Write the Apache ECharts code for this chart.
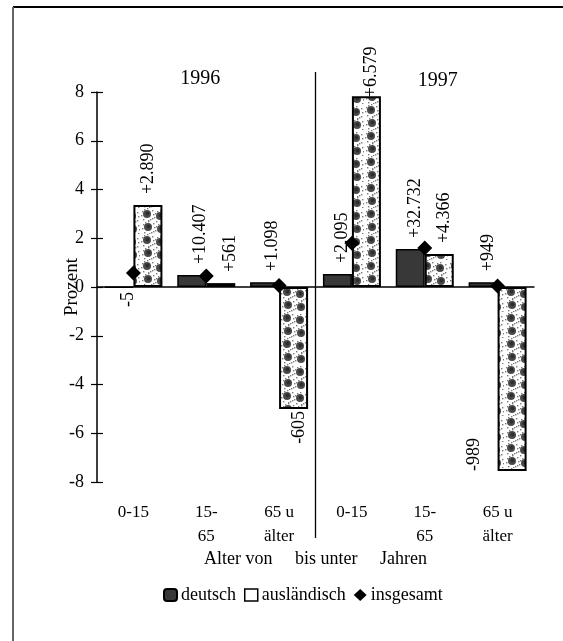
<!DOCTYPE html>
<html><head><meta charset="utf-8">
<script src="https://cdn.jsdelivr.net/npm/echarts@6/dist/echarts.min.js"></script>
<style>html,body{margin:0;padding:0;background:#fff}#c{width:563px;height:641px}</style>
</head><body><div id="c"></div>
<script>
// ---- data ----
const categories = ['0-15', '15-\n65', '65 u\nälter', '0-15', '15-\n65', '65 u\nälter'];
const deutsch = [-0.02, 0.49, 0.20, 0.53, 1.56, 0.20];
const auslaendisch = [3.36, 0.16, -5.0, 7.83, 1.35, -7.55];
const insgesamt = [0.57, 0.45, 0.06, 1.80, 1.60, 0.04];
const deutschLabels = ['-5', '+10.407', '+1.098', '+2.095', '+32.732', '+949'];
const auslLabels = ['+2.890', '+561', '-605', '+6.579', '+4.366', '-989'];
const yearLabels = ['1996', '1997'];
const yMin = -8, yMax = 8, yInterval = 2;
const seriesNames = ['deutsch', 'ausländisch', 'insgesamt'];
const xAxisName = 'Alter von     bis unter     Jahren';
const yAxisName = 'Prozent';

// ---- styles ----
const FONT = 'Liberation Serif, Times New Roman, serif';
// label offsets are in the rotated frame: [along text (screen up), across text (screen right)]
const overrides = {
  deutsch: { 0: { distance: 4, offset: [0, 9] }, 1: { offset: [0, 9] }, 2: { offset: [0, 8] } },
  ausl: { 0: { offset: [0, 0] }, 1: { offset: [0, 10] }, 3: { distance: -1 },
          5: { position: 'bottom', align: 'left', distance: 0, offset: [0, -38] } }
};

function buildItems(vals, ov) {
  return vals.map((v, i) => {
    const base = v >= 0
      ? { position: 'top', align: 'left', verticalAlign: 'middle', distance: 11, offset: [0, 5] }
      : { position: 'bottom', align: 'right', verticalAlign: 'middle', distance: 2, offset: [0, 6] };
    return { value: v, label: Object.assign(base, (ov && ov[i]) || {}) };
  });
}

// speckled blot texture for the "ausländisch" bars
function makeTexture() {
  const c = document.createElement('canvas');
  c.width = 28; c.height = 26;
  const g = c.getContext('2d');
  g.fillStyle = '#fff'; g.fillRect(0, 0, 28, 26);
  const blots = [[7, 6], [20, 8], [8, 19], [21, 21]];
  const specks = [[-5, -3], [5, -4], [-4, 5], [5, 4], [0, -6], [-6, 1], [6, 0], [1, 6], [-3, -5], [3, 5]];
  blots.forEach(([x, y]) => {
    g.fillStyle = '#4a4a4a';
    g.beginPath(); g.arc(x, y, 4, 0, Math.PI * 2); g.fill();
    g.fillStyle = '#2e2e2e';
    g.beginPath(); g.arc(x + 0.5, y - 0.5, 2, 0, Math.PI * 2); g.fill();
    g.fillStyle = '#7a7a7a';
    specks.forEach(([dx, dy]) => g.fillRect(x + dx, y + dy, 1.4, 1.4));
  });
  return c;
}
const texture = makeTexture();

const labelCommon = { show: true, rotate: 90, fontFamily: FONT, fontSize: 18, color: '#000' };

const chart = echarts.init(document.getElementById('c'), null, { renderer: 'canvas' });
const option = {
  animation: false,
  backgroundColor: '#fff',
  textStyle: { fontFamily: FONT, color: '#000' },
  grid: { left: 97, top: 92, width: 437, height: 390, containLabel: false },
  legend: {
    left: 163, top: 586, padding: 0,
    itemWidth: 13, itemHeight: 12, itemGap: 8,
    textStyle: { fontFamily: FONT, fontSize: 18, color: '#000', padding: [0, 0, 0, -1] },
    data: [
      { name: seriesNames[0], icon: 'roundRect' },
      { name: seriesNames[1], icon: 'rect', itemStyle: { color: '#fff', borderColor: '#000', borderWidth: 1.5 } },
      { name: seriesNames[2], icon: 'diamond' }
    ]
  },
  xAxis: [
    {
      type: 'category', data: categories, position: 'bottom',
      axisLine: { show: false, onZero: false }, axisTick: { show: false },
      axisLabel: { fontFamily: FONT, fontSize: 17, lineHeight: 24, margin: 19, color: '#000', interval: 0 },
      name: xAxisName, nameLocation: 'middle', nameGap: 68, nameMoveOverlap: false,
      nameTextStyle: { fontFamily: FONT, fontSize: 18, color: '#000' }
    },
    {
      type: 'category', data: categories, position: 'bottom',
      axisLine: { show: true, onZero: true, lineStyle: { color: '#000', width: 1.5 } },
      axisTick: { show: false }, axisLabel: { show: false }
    }
  ],
  yAxis: [
    {
      type: 'value', min: yMin, max: yMax, interval: yInterval, position: 'left',
      axisLine: { show: true, lineStyle: { color: '#000', width: 1.5 } },
      axisTick: { show: true, length: 6, lineStyle: { color: '#000', width: 1.2 } },
      axisLabel: { fontFamily: FONT, fontSize: 18, color: '#000', margin: 13 },
      splitLine: { show: false },
      name: yAxisName, nameLocation: 'middle', nameGap: 15, nameMoveOverlap: false,
      nameTextStyle: { fontFamily: FONT, fontSize: 19, color: '#000' }
    },
    {
      type: 'value', min: yMin, max: yMax, interval: yInterval, position: 'left',
      axisLine: { show: false },
      axisTick: { show: true, inside: true, length: 6, lineStyle: { color: '#000', width: 1.2 } },
      axisLabel: { show: false }, splitLine: { show: false }
    }
  ],
  series: [
    {
      name: seriesNames[0], type: 'bar', barWidth: 29, barGap: '0%',
      data: buildItems(deutsch, overrides.deutsch),
      itemStyle: { color: '#383838', borderColor: '#000', borderWidth: 1.5 },
      label: Object.assign({}, labelCommon, { formatter: p => deutschLabels[p.dataIndex] })
    },
    {
      name: seriesNames[1], type: 'bar', barWidth: 29, barGap: '0%',
      data: buildItems(auslaendisch, overrides.ausl),
      itemStyle: { color: { image: texture, repeat: 'repeat' }, borderColor: '#000', borderWidth: 2 },
      label: Object.assign({}, labelCommon, { formatter: p => auslLabels[p.dataIndex] })
    },
    {
      name: seriesNames[2], type: 'scatter', data: insgesamt, z: 5,
      symbol: 'diamond', symbolSize: 15,
      itemStyle: { color: '#000', opacity: 1 }
    }
  ],
  graphic: []
};
chart.setOption(option);

// separator between the two years, frame and year titles, positioned through the library scales
const p1 = chart.convertToPixel({ xAxisIndex: 0 }, 1);
const p2 = chart.convertToPixel({ xAxisIndex: 0 }, 2);
const p3 = chart.convertToPixel({ xAxisIndex: 0 }, 3);
const p4 = chart.convertToPixel({ xAxisIndex: 0 }, 4);
const sepX = (p2 + p3) / 2;
chart.setOption({
  graphic: [
    { type: 'line', shape: { x1: 13, y1: 7, x2: 563, y2: 7 }, style: { stroke: '#000', lineWidth: 2 }, silent: true },
    { type: 'line', shape: { x1: 13, y1: 7, x2: 13, y2: 641 }, style: { stroke: '#666', lineWidth: 2 }, silent: true },
    { type: 'line', shape: { x1: sepX, y1: 72, x2: sepX, y2: 538 }, style: { stroke: '#000', lineWidth: 1.3 }, silent: true },
    { type: 'text', x: p1 - 6, y: 79, style: { text: yearLabels[0], font: '20px ' + FONT, fill: '#000', align: 'center', verticalAlign: 'middle' }, silent: true },
    { type: 'text', x: p4 + 13, y: 81, style: { text: yearLabels[1], font: '20px ' + FONT, fill: '#000', align: 'center', verticalAlign: 'middle' }, silent: true }
  ]
});
</script>
</body></html>
